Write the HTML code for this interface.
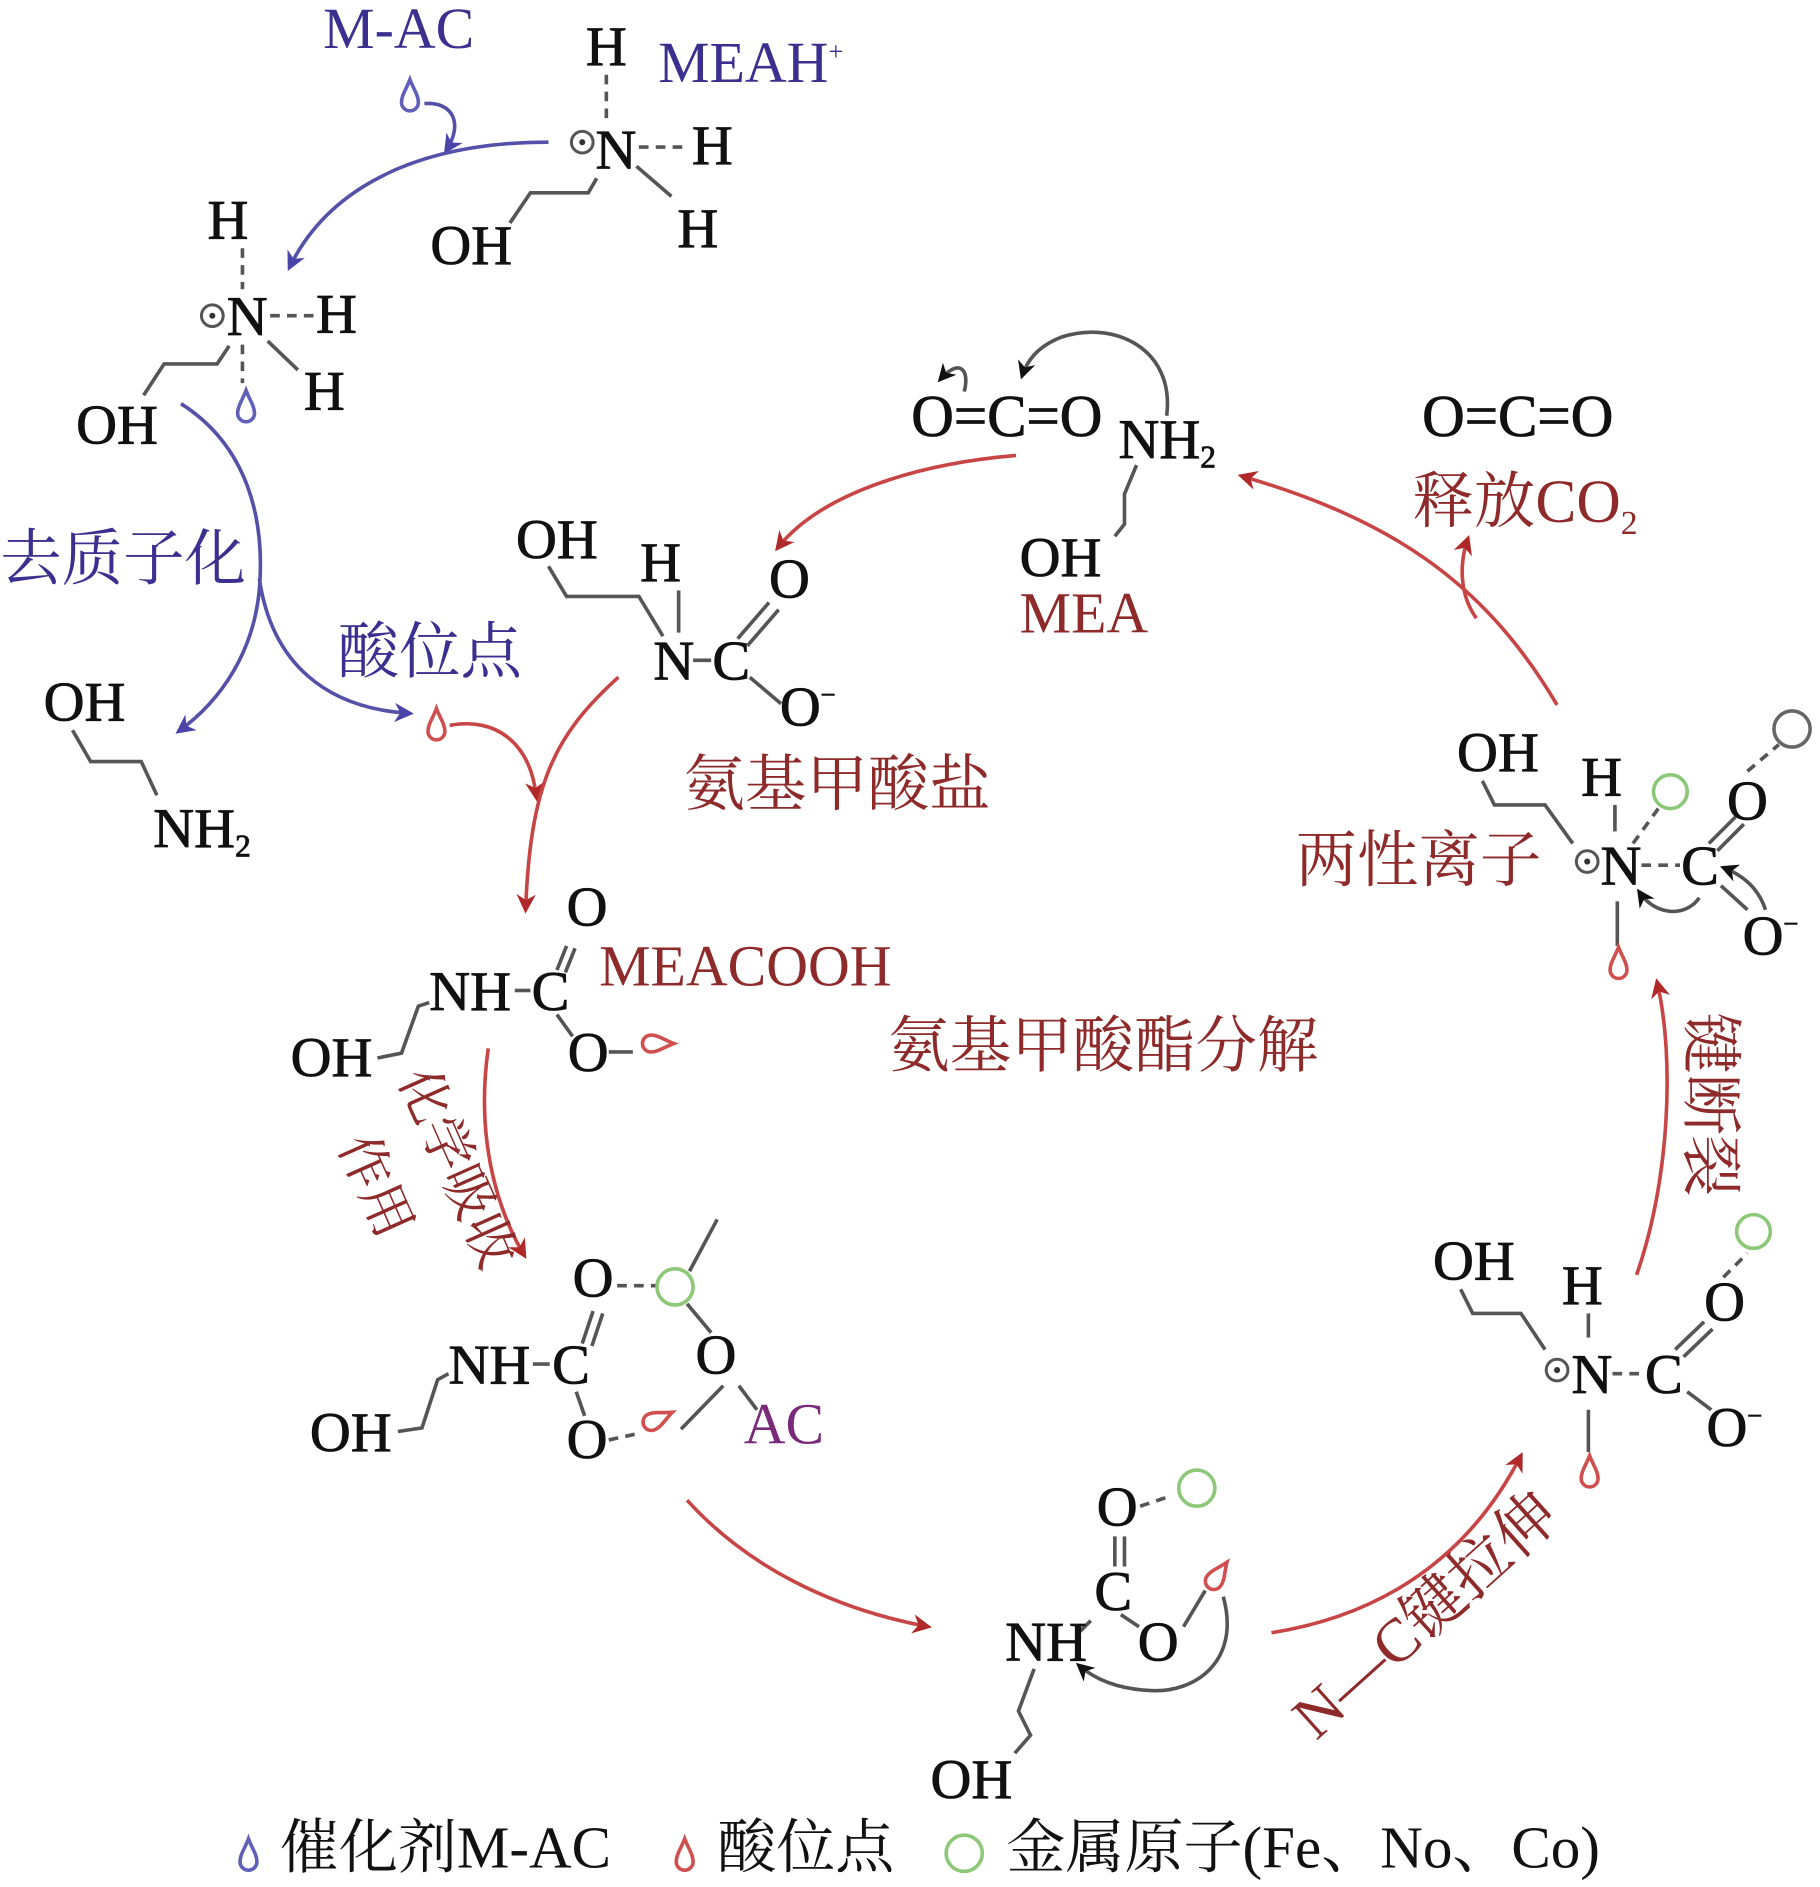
<!DOCTYPE html>
<html><head><meta charset="utf-8"><style>
html,body{margin:0;padding:0;background:#fff}
svg{display:block}
text{font-family:"Liberation Serif","Noto Serif CJK SC",serif}
.k{fill:#111;font-size:47px;stroke:#111;stroke-width:0.7}
.b{fill:#3b2f8f}
.r{fill:#8e2a2a}
.cn{font-family:"Liberation Serif","Noto Serif CJK SC",serif;font-size:51px}
.ln{stroke:#555;stroke-width:3;fill:none}
.ds{stroke:#555;stroke-width:3;fill:none;stroke-dasharray:8 6}
.ba{stroke:#5550a8;stroke-width:3;fill:none;marker-end:url(#ab)}
.ra{stroke:#c84545;stroke-width:3;fill:none;marker-end:url(#ar)}
.ka{stroke:#555;stroke-width:3;fill:none;marker-end:url(#ak)}
.db{fill:none;stroke:#6060b8;stroke-width:3}
.dr{fill:none;stroke:#d05050;stroke-width:3}
</style></head><body>
<svg width="1820" height="1887" viewBox="0 0 1510 1566" xmlns="http://www.w3.org/2000/svg">
<defs>
<marker id="ab" viewBox="0 0 20 20" refX="16" refY="10" markerWidth="22" markerHeight="16" orient="auto" markerUnits="userSpaceOnUse"><path d="M0,0 L20,10 L0,20 L6,10Z" fill="#4a44a8"/></marker>
<marker id="ar" viewBox="0 0 20 20" refX="16" refY="10" markerWidth="22" markerHeight="16" orient="auto" markerUnits="userSpaceOnUse"><path d="M0,0 L20,10 L0,20 L6,10Z" fill="#b02828"/></marker>
<marker id="ak" viewBox="0 0 20 20" refX="16" refY="10" markerWidth="20" markerHeight="15" orient="auto" markerUnits="userSpaceOnUse"><path d="M0,0 L20,10 L0,20 L6,10Z" fill="#111"/></marker>
</defs>

<!-- top MEAH+ -->
<text x="268" y="40" class="b" style="font-size:48px">M-AC</text>
<path class="db" transform="translate(340,80)" d="M0,-14 C-3,-6 -7,-1 -7,5 A7,7 0 0 0 7,5 C7,-1 3,-6 0,-14Z"/>
<path class="ba" d="M352,86 C375,84 385,102 370,125"/>
<path class="ba" d="M455,118 C340,118 270,160 240,222"/>
<text x="486" y="54" class="k">H</text>
<text x="546" y="68" class="b" style="font-size:48px">MEAH<tspan dy="-18" style="font-size:22px">+</tspan></text>
<path class="ds" d="M503,62 V100"/>
<circle cx="483" cy="118" r="9" fill="none" stroke="#555" stroke-width="2.5"/><circle cx="483" cy="118" r="2.5" fill="#333"/>
<text x="494" y="140" class="k">N</text>
<path class="ds" d="M530,122 H572"/>
<text x="574" y="136" class="k">H</text>
<path class="ln" d="M528,138 L557,163"/>
<text x="562" y="205" class="k">H</text>
<path class="ln" d="M495,148 L488,160 H440 L423,185"/>
<text x="357" y="219" class="k">OH</text>

<!-- second -->
<text x="172" y="198" class="k">H</text>
<path class="ds" d="M201,206 V240"/>
<circle cx="176" cy="262" r="9" fill="none" stroke="#555" stroke-width="2.5"/><circle cx="176" cy="262" r="2.5" fill="#333"/>
<text x="188" y="278" class="k">N</text>
<path class="ds" d="M224,262 H260"/>
<text x="262" y="276" class="k">H</text>
<path class="ln" d="M222,283 L247,307"/>
<text x="252" y="340" class="k">H</text>
<path class="ds" d="M201,286 V318"/>
<path class="db" transform="translate(204,338)" d="M0,-14 C-3,-6 -7,-1 -7,5 A7,7 0 0 0 7,5 C7,-1 3,-6 0,-14Z"/>
<path class="ln" d="M190,287 L180,302 H136 L119,328"/>
<text x="63" y="368" class="k">OH</text>

<path class="ba" d="M150,335 C205,370 220,430 215,490 C210,540 185,580 148,607"/>
<path class="ba" d="M215,480 C225,550 270,588 340,592"/>
<text x="0" y="481" class="b cn">去质子化</text>
<text x="280" y="558" class="b cn">酸位点</text>

<text x="36" y="598" class="k">OH</text>
<path class="ln" d="M60,606 L75,632 H117 L130,660"/>
<text x="127" y="703" class="k">NH<tspan dy="8" style="font-size:26px">2</tspan></text>

<path class="dr" transform="translate(362,602)" d="M0,-14 C-3,-6 -7,-1 -7,5 A7,7 0 0 0 7,5 C7,-1 3,-6 0,-14Z"/>
<path class="ra" d="M373,602 C410,595 440,615 445,662"/>
<path class="ra" d="M513,562 C460,610 440,650 436,755"/>

<!-- carbamate salt -->
<text x="428" y="463" class="k">OH</text>
<text x="531" y="482" class="k">H</text>
<path class="ln" d="M455,470 L470,495 H530 L550,528"/>
<path class="ln" d="M563,490 V525"/>
<text x="542" y="564" class="k">N</text>
<path class="ln" d="M575,548 H590"/>
<text x="591" y="564" class="k">C</text>
<path class="ln" d="M612,530 L638,500 M620,536 L646,506"/>
<text x="638" y="496" class="k">O</text>
<path class="ln" d="M622,562 L648,584"/>
<text x="647" y="602" class="k">O<tspan dy="-18" style="font-size:22px">−</tspan></text>
<text x="567" y="668" class="r cn">氨基甲酸盐</text>

<!-- top middle -->
<text x="756" y="362" class="k" style="font-size:49px">O=C=O</text>
<text x="928" y="380" class="k">NH<tspan dy="8" style="font-size:26px">2</tspan></text>
<path class="ka" d="M968,345 C975,290 925,265 880,280 C860,288 852,300 848,312"/>
<path class="ka" d="M800,325 C805,305 795,298 780,315"/>
<path class="ln" d="M943,386 L933,410 V435 L925,445"/>
<text x="846" y="478" class="k">OH</text>
<text x="846" y="525" class="r" style="font-size:48px">MEA</text>
<path class="ra" d="M843,378 C760,385 680,410 645,455"/>

<!-- top right -->
<text x="1180" y="362" class="k" style="font-size:49px">O=C=O</text>
<text x="1172" y="433" class="r cn">释放CO<tspan dy="10" style="font-size:28px">2</tspan></text>
<path class="ra" d="M1292,585 C1230,480 1150,430 1030,395"/>
<path class="ra" d="M1225,513 C1212,495 1210,470 1218,447"/>

<!-- zwitterion -->
<text x="1209" y="640" class="k">OH</text>
<text x="1312" y="660" class="k">H</text>
<path class="ln" d="M1230,648 L1240,668 H1282 L1305,700"/>
<path class="ln" d="M1340,668 V690"/>
<circle cx="1317" cy="715" r="9" fill="none" stroke="#555" stroke-width="2.5"/><circle cx="1317" cy="715" r="2.5" fill="#333"/>
<text x="1328" y="734" class="k">N</text>
<path class="ds" d="M1362,718 H1394"/>
<text x="1395" y="734" class="k">C</text>
<path class="ln" d="M1418,700 L1440,678 M1425,706 L1447,684"/>
<text x="1433" y="680" class="k">O</text>
<path class="ln" d="M1428,735 L1450,755"/>
<text x="1446" y="792" class="k">O<tspan dy="-18" style="font-size:22px">−</tspan></text>
<circle cx="1386" cy="657" r="14" fill="none" stroke="#8cc878" stroke-width="3"/>
<path class="ds" d="M1355,700 L1376,671"/>
<circle cx="1487" cy="605" r="15" fill="none" stroke="#666" stroke-width="3"/>
<path class="ds" d="M1450,640 L1476,618"/>
<path class="ka" d="M1410,745 C1400,760 1375,762 1360,740"/>
<path class="ka" d="M1465,755 C1460,740 1450,728 1430,720"/>
<path class="ln" d="M1342,748 V785"/>
<path class="dr" transform="translate(1343,800)" d="M0,-14 C-3,-6 -7,-1 -7,5 A7,7 0 0 0 7,5 C7,-1 3,-6 0,-14Z"/>
<text x="1075" y="731" class="r cn">两性离子</text>

<text transform="translate(1402,840) rotate(90)" class="r cn">键断裂</text>
<path class="ra" d="M1358,1058 C1385,980 1390,880 1375,815"/>

<!-- lower right -->
<text x="1189" y="1062" class="k">OH</text>
<text x="1296" y="1082" class="k">H</text>
<path class="ln" d="M1212,1070 L1222,1090 H1262 L1282,1120"/>
<path class="ln" d="M1318,1090 V1110"/>
<circle cx="1292" cy="1137" r="9" fill="none" stroke="#555" stroke-width="2.5"/><circle cx="1292" cy="1137" r="2.5" fill="#333"/>
<text x="1304" y="1156" class="k">N</text>
<path class="ds" d="M1338,1140 H1365"/>
<text x="1365" y="1156" class="k">C</text>
<path class="ln" d="M1390,1120 L1414,1097 M1397,1126 L1421,1103"/>
<text x="1414" y="1096" class="k">O</text>
<path class="ds" d="M1430,1060 L1450,1040"/>
<circle cx="1455" cy="1022" r="14" fill="none" stroke="#8cc878" stroke-width="3"/>
<path class="ln" d="M1400,1155 L1420,1170"/>
<text x="1416" y="1200" class="k">O<tspan dy="-18" style="font-size:22px">−</tspan></text>
<path class="ln" d="M1318,1170 V1205"/>
<path class="dr" transform="translate(1319,1222)" d="M0,-14 C-3,-6 -7,-1 -7,5 A7,7 0 0 0 7,5 C7,-1 3,-6 0,-14Z"/>

<text transform="translate(1092,1445) rotate(-42)" class="r cn">N—C键拉伸</text>
<path class="ra" d="M1055,1355 C1150,1340 1220,1290 1262,1208"/>

<!-- bottom -->
<text x="910" y="1266" class="k">O</text>
<path class="ds" d="M946,1250 L970,1242"/>
<circle cx="993" cy="1235" r="15" fill="none" stroke="#8cc878" stroke-width="3"/>
<path class="ln" d="M925,1275 V1300 M933,1275 V1300"/>
<text x="908" y="1336" class="k">C</text>
<path class="ln" d="M930,1340 L945,1350"/>
<text x="944" y="1378" class="k">O</text>
<path class="ln" d="M982,1350 L1000,1320"/>
<path class="dr" transform="translate(1010,1308) rotate(35)" d="M0,-14 C-3,-6 -7,-1 -7,5 A7,7 0 0 0 7,5 C7,-1 3,-6 0,-14Z"/>
<path class="ln" d="M905,1345 L895,1355"/>
<text x="834" y="1378" class="k">NH</text>
<path class="ka" d="M1015,1325 C1030,1380 990,1405 955,1403 C930,1402 910,1395 895,1382"/>
<path class="ln" d="M858,1385 L845,1420 L855,1440 L842,1455"/>
<text x="772" y="1492" class="k">OH</text>
<path class="ra" d="M570,1245 C620,1300 690,1335 770,1350"/>

<!-- MEACOOH -->
<text x="470" y="768" class="k">O</text>
<path class="ln" d="M470,785 L462,805 M477,787 L469,807"/>
<text x="356" y="838" class="k">NH</text>
<path class="ln" d="M427,822 H440"/>
<text x="441" y="838" class="k">C</text>
<text x="497" y="818" class="r" style="font-size:48px">MEACOOH</text>
<path class="ln" d="M462,842 L475,860"/>
<text x="471" y="889" class="k">O</text>
<path class="ln" d="M505,873 H525"/>
<path class="dr" transform="translate(545,866) rotate(90)" d="M0,-14 C-3,-6 -7,-1 -7,5 A7,7 0 0 0 7,5 C7,-1 3,-6 0,-14Z"/>
<text x="241" y="893" class="k">OH</text>
<path class="ln" d="M313,878 L333,874 L347,835 L356,832"/>
<text x="737" y="885" class="r cn">氨基甲酸酯分解</text>
<path class="ra" d="M405,870 C395,940 410,1000 435,1042"/>
<text transform="translate(330,895) rotate(66)" class="r" style="font-size:44px">化学吸收</text>
<text transform="translate(280,950) rotate(66)" class="r" style="font-size:44px">作用</text>

<!-- AC -->
<text x="475" y="1076" class="k">O</text>
<path class="ds" d="M512,1067 L545,1067"/>
<circle cx="560" cy="1068" r="15" fill="none" stroke="#8cc878" stroke-width="3"/>
<path class="ln" d="M572,1055 L595,1012"/>
<path class="ln" d="M570,1082 L590,1106"/>
<text x="577" y="1140" class="k">O</text>
<path class="ln" d="M600,1150 L565,1186"/>
<path class="ln" d="M613,1150 L628,1170"/>
<text x="617" y="1198" style="font-size:48px;fill:#7a2a7a">AC</text>
<path class="ln" d="M492,1088 L483,1115 M500,1090 L491,1117"/>
<text x="372" y="1148" class="k">NH</text>
<path class="ln" d="M442,1132 H456"/>
<text x="458" y="1148" class="k">C</text>
<path class="ln" d="M478,1155 L485,1175"/>
<text x="470" y="1210" class="k">O</text>
<path class="ds" d="M505,1195 L528,1190"/>
<path class="dr" transform="translate(545,1178) rotate(65)" d="M0,-14 C-3,-6 -7,-1 -7,5 A7,7 0 0 0 7,5 C7,-1 3,-6 0,-14Z"/>
<text x="257" y="1204" class="k">OH</text>
<path class="ln" d="M330,1188 L350,1185 L363,1145 L372,1140"/>

<!-- legend -->
<path class="db" transform="translate(206,1540)" d="M0,-14 C-3,-6 -7,-1 -7,5 A7,7 0 0 0 7,5 C7,-1 3,-6 0,-14Z"/>
<text x="232" y="1550" style="font-size:49px;fill:#111">催化剂M-AC</text>
<path class="dr" transform="translate(568,1540)" d="M0,-14 C-3,-6 -7,-1 -7,5 A7,7 0 0 0 7,5 C7,-1 3,-6 0,-14Z"/>
<text x="595" y="1550" style="font-size:49px;fill:#111">酸位点</text>
<circle cx="800" cy="1538" r="15" fill="none" stroke="#8cc878" stroke-width="3"/>
<text x="835" y="1550" style="font-size:49px;fill:#111">金属原子(Fe、No、Co)</text>
</svg>
</body></html>
